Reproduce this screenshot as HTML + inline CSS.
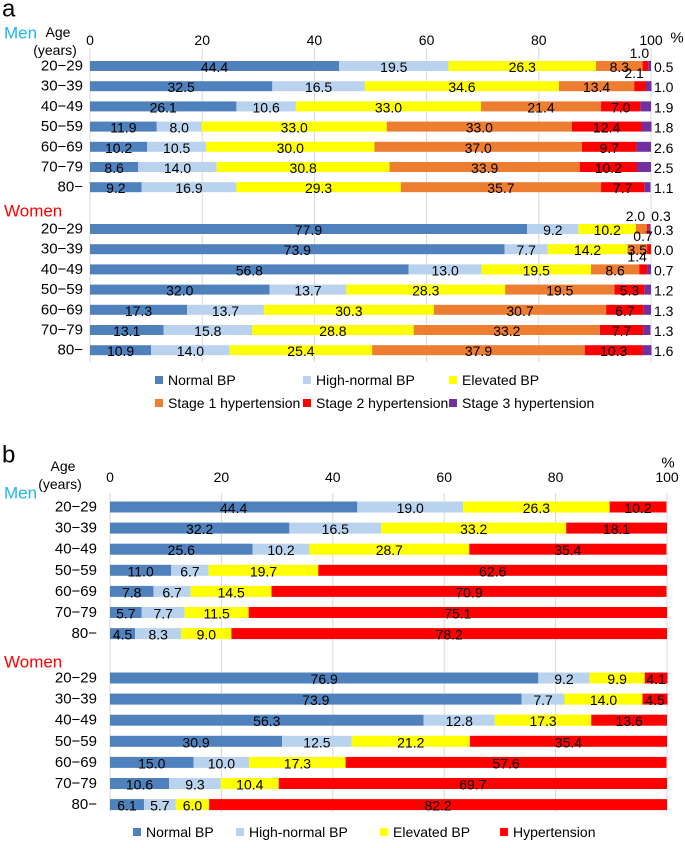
<!DOCTYPE html>
<html><head><meta charset="utf-8"><style>
body{margin:0;background:#fff;}
svg{display:block;font-family:"Liberation Sans",sans-serif;}
</style></head><body>
<svg id="s" width="685" height="848" viewBox="0 0 685 848"></svg>
<script>
const ages = ["20−29","30−39","40−49","50−59","60−69","70−79","80−"];
const ticks = [0,20,40,60,80,100];
// Panel a: series per row [normal, high-normal, elevated, stage1, stage2, stage3]
const aMen = [[44.4,19.5,26.3,8.3,1.0,0.5],[32.5,16.5,34.6,13.4,2.1,1.0],[26.1,10.6,33.0,21.4,7.0,1.9],[11.9,8.0,33.0,33.0,12.4,1.8],[10.2,10.5,30.0,37.0,9.7,2.6],[8.6,14.0,30.8,33.9,10.2,2.5],[9.2,16.9,29.3,35.7,7.7,1.1]];
const aWomen = [[77.9,9.2,10.2,2.0,0.3,0.3],[73.9,7.7,14.2,3.5,0.7,0.0],[56.8,13.0,19.5,8.6,1.4,0.7],[32.0,13.7,28.3,19.5,5.3,1.2],[17.3,13.7,30.3,30.7,6.7,1.3],[13.1,15.8,28.8,33.2,7.7,1.3],[10.9,14.0,25.4,37.9,10.3,1.6]];
// Panel b: [normal, high-normal, elevated, hypertension]
const bMen = [[44.4,19.0,26.3,10.2],[32.2,16.5,33.2,18.1],[25.6,10.2,28.7,35.4],[11.0,6.7,19.7,62.6],[7.8,6.7,14.5,70.9],[5.7,7.7,11.5,75.1],[4.5,8.3,9.0,78.2]];
const bWomen = [[76.9,9.2,9.9,4.1],[73.9,7.7,14.0,4.5],[56.3,12.8,17.3,13.6],[30.9,12.5,21.2,35.4],[15.0,10.0,17.3,57.6],[10.6,9.3,10.4,69.7],[6.1,5.7,6.0,82.2]];
const aNames = ["Normal BP","High-normal BP","Elevated BP","Stage 1 hypertension","Stage 2 hypertension","Stage 3 hypertension"];
const bNames = ["Normal BP","High-normal BP","Elevated BP","Hypertension"];
const aCols = ["#4F81BD","#B9D3EE","#FFFF00","#ED7D31","#FF0000","#7030A0"];
const bCols = ["#4F81BD","#B9D3EE","#FFFF00","#FF0000"];

const S = document.getElementById('s');
const NS = "http://www.w3.org/2000/svg";
function el(tag, at, txt){const e=document.createElementNS(NS,tag);for(const k in at)e.setAttribute(k,at[k]);if(txt!==undefined)e.textContent=txt;S.appendChild(e);return e;}
function txt(x,y,t,size,anchor,fill){return el('text',{x:x,y:y,'font-size':size,'text-anchor':anchor||'middle',fill:fill||'#000','dominant-baseline':'central'},t);}

function panel(o){
  const X = v => o.x0 + (o.x1-o.x0)*v/100;
  let e=txt(o.lx,o.ly,o.letter,24,'start');  
  for(const t of ticks){
    const g=el('line',{x1:X(t),x2:X(t),y1:o.gy0,y2:o.gy1,stroke:'#d9d9d9','stroke-width':1});
     
    const tl=txt(X(t),o.ty,String(t),14);  
  }
  e=txt(o.pctx,o.pcty,'%',15,'middle');  
  e=txt(o.agex,o.agey,'Age',14,'middle');  
  e=txt(o.agex-3,o.agey+18,'(years)',14,'middle');  
  e=txt(o.menx,o.meny,'Men',17,'start','#1fb5f0');  
  e=txt(o.womx,o.womy,'Women',17,'start','#ff0000');  
  const groups=[[o.men,o.my0,'men'],[o.women,o.wy0,'women']];
  for(const [data,y0,gn] of groups){
    data.forEach((row,i)=>{
      const cy=y0+i*o.dy;
      const al=txt(o.alx,cy,ages[i],15,'end');  
      let acc=0, prevAbove=false;
      row.forEach((v,j)=>{
        const xa=X(acc), xb=X(acc+v);
        const r=el('rect',{x:xa,y:cy-o.bh/2,width:Math.max(0,xb-xa),height:o.bh,fill:o.cols[j]});
        
        
        let lx=(xa+xb)/2, ly=cy+1, anc='middle', above=false;
        if(o.six && j===row.length-1){lx=o.x1+3; anc='start';}
        else if(o.six && v<2.5){
          above=true; ly=cy-13;
          lx = prevAbove ? o.x1+10 : (xa+xb)/2-6;
        }
        prevAbove=above;
        const vl=txt(lx,ly,v.toFixed(1),14,anc);  
        acc+=v;
      });
    });
  }
  o.legend.forEach(L=>{
    const r=el('rect',{x:L[0],y:L[1]-4,width:8,height:8,fill:o.cols[L[2]]});
     
    const t=txt(L[0]+13,L[1],o.names[L[2]],14,'start');  
  });
}
panel({letter:'a',lx:2,ly:9,x0:90,x1:651,gy0:48,gy1:362,ty:40,pctx:677,pcty:38,agex:58,agey:32,menx:4,meny:33,womx:4,womy:211,
  alx:83,my0:66,wy0:229,dy:20.2,bh:10,men:aMen,women:aWomen,cols:aCols,names:aNames,six:true,
  legend:[[155,380,0],[303,380,1],[449,380,2],[155,403,3],[303,403,4],[449,403,5]]});
panel({letter:'b',lx:2,ly:455,x0:110,x1:667,gy0:493,gy1:812,ty:477,pctx:668,pcty:463,agex:63,agey:466,menx:4,meny:493,womx:4,womy:662,
  alx:97,my0:507,wy0:678,dy:21.1,bh:11,men:bMen,women:bWomen,cols:bCols,names:bNames,six:false,
  legend:[[133,832,0],[236,832,1],[380,832,2],[500,832,3]]});
</script>
</body></html>
